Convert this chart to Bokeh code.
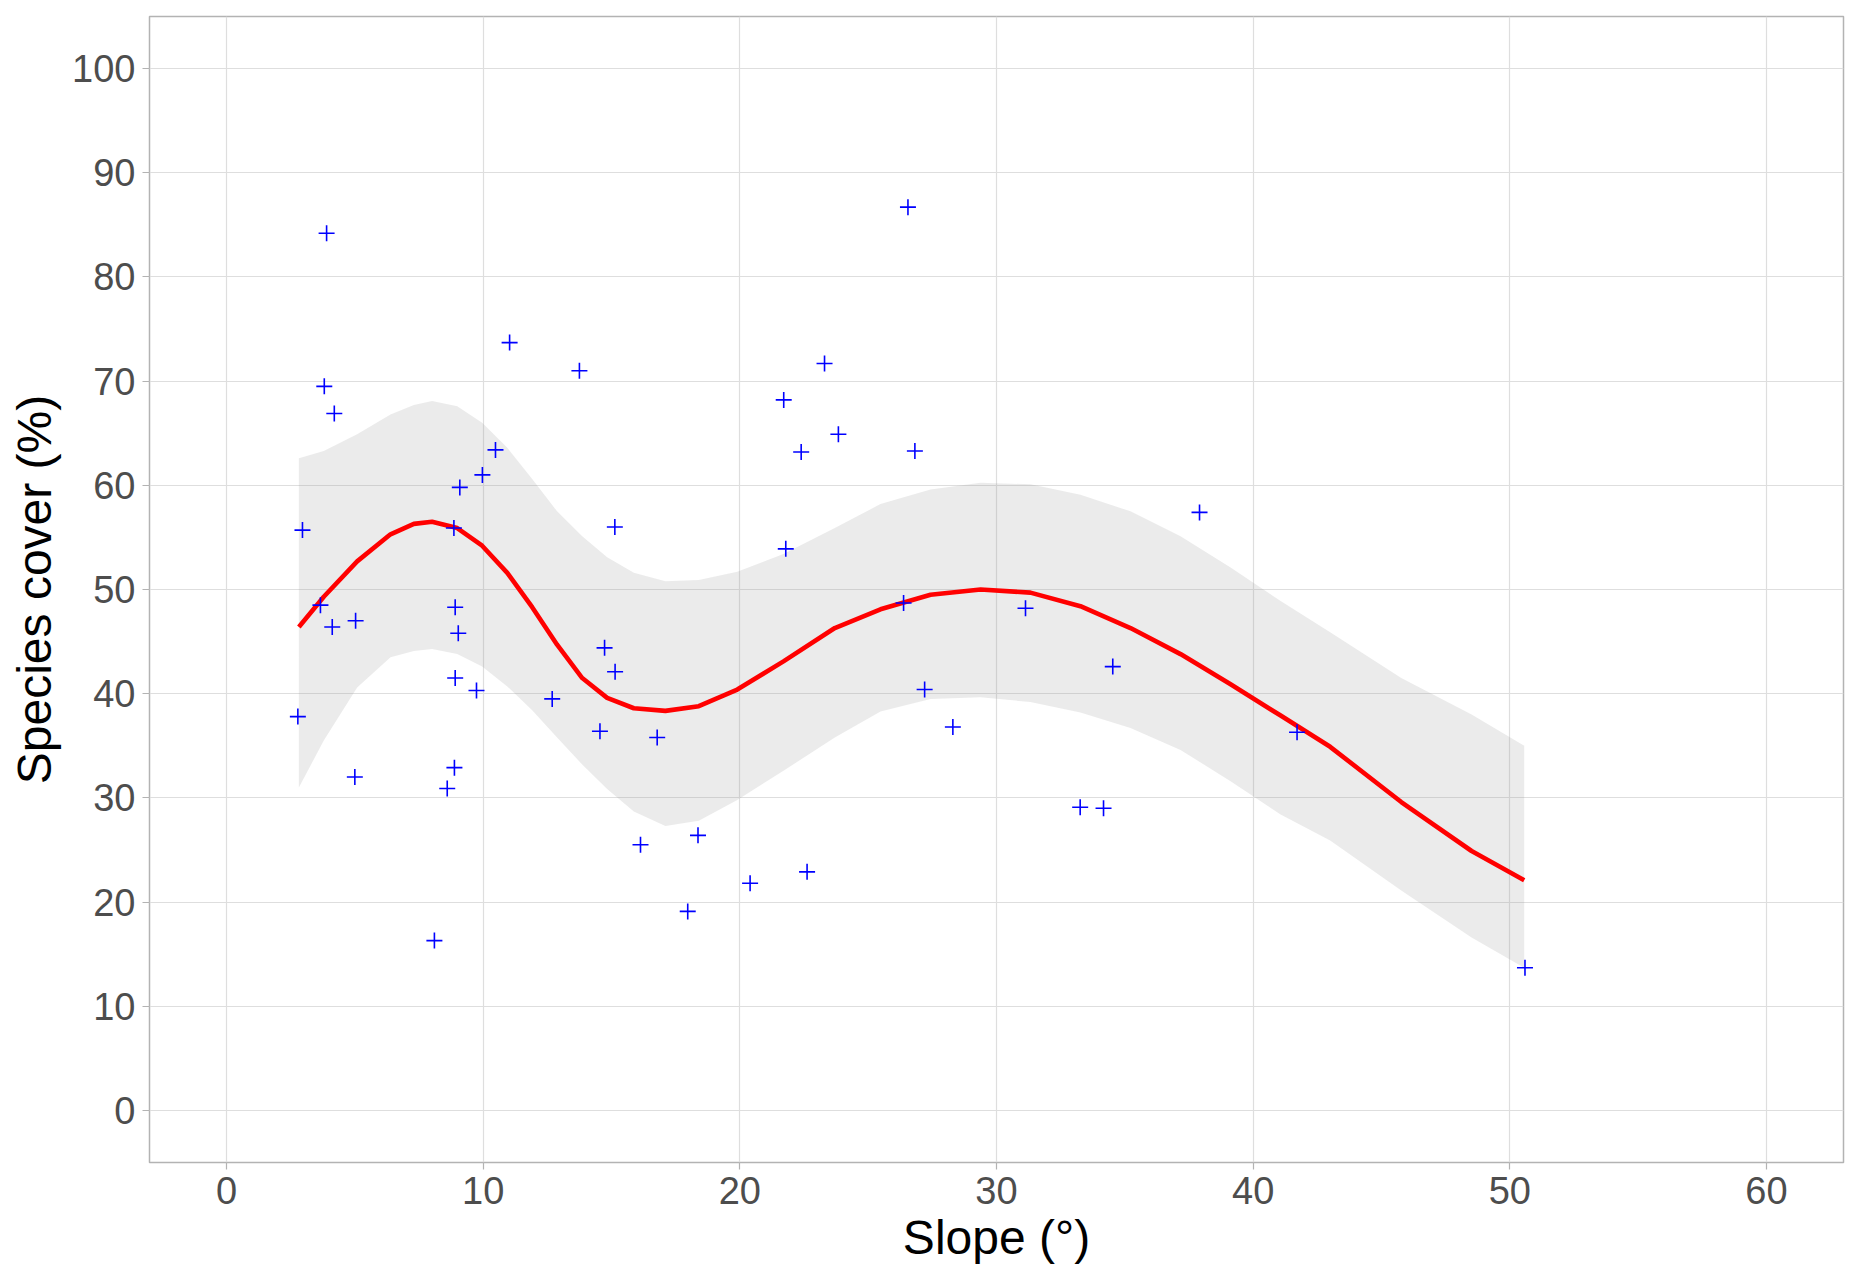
from bokeh.plotting import figure
from bokeh.models import Range1d, FixedTicker, ColumnDataSource
from bokeh.embed import file_html
from bokeh.resources import INLINE

# Observed data: slope (degrees) and species cover (%)
slope = [2.78, 2.96, 3.90, 3.81, 4.20, 3.66, 4.12, 5.03, 5.00, 8.10,
         8.60, 8.88, 8.91, 8.91, 9.03, 8.86, 9.09, 9.74, 9.97, 10.48,
         11.03, 12.69, 13.75, 14.73, 14.55, 15.14, 15.13, 16.13, 16.78, 17.97,
         18.37, 20.40, 21.71, 21.79, 22.39, 22.62, 23.30, 23.84, 26.38, 26.55,
         26.82, 27.20, 28.30, 31.13, 33.26, 34.17, 34.53, 37.91, 41.71, 50.59]
cover = [37.8, 55.7, 84.2, 69.5, 66.9, 48.5, 46.4, 47.0, 32.0, 16.3,
         30.9, 32.9, 41.5, 48.3, 45.8, 55.9, 59.8, 40.3, 61.0, 63.4,
         73.7, 39.5, 71.0, 44.4, 36.4, 42.1, 56.0, 25.5, 35.8, 19.1,
         26.4, 21.8, 68.2, 53.9, 63.2, 22.9, 71.7, 64.9, 48.7, 86.7,
         63.3, 40.4, 36.8, 48.2, 29.1, 29.0, 42.6, 57.4, 36.3, 13.7]

# Smooth fit and its confidence band
fit_x = [2.82, 3.79, 5.09, 6.39, 7.30, 8.01, 8.99, 9.96, 10.94, 11.91, 12.88, 13.86,
         14.83, 15.87, 17.10, 18.40, 19.90, 21.70, 23.70, 25.48, 27.43, 29.38, 31.32,
         33.27, 35.22, 37.17, 39.12, 41.07, 43.00, 45.77, 48.51, 50.56]
fit_y = [46.4, 49.3, 52.7, 55.3, 56.3, 56.5, 55.9, 54.2, 51.6, 48.3, 44.7, 41.5,
         39.6, 38.6, 38.35, 38.8, 40.4, 43.1, 46.3, 48.1, 49.5, 50.0, 49.7,
         48.4, 46.3, 43.8, 40.9, 37.9, 34.9, 29.6, 24.9, 22.1]
fit_upper = [62.6, 63.3, 64.9, 66.8, 67.7, 68.1, 67.6, 66.0, 63.6, 60.6, 57.5, 55.1,
             53.1, 51.6, 50.8, 50.9, 51.7, 53.4, 55.9, 58.2, 59.6, 60.25, 60.1,
             59.1, 57.5, 55.1, 52.1, 48.9, 45.9, 41.5, 38.0, 35.0]
fit_lower = [31.0, 35.5, 40.6, 43.5, 44.1, 44.3, 43.8, 42.6, 40.7, 38.4, 35.8, 33.2,
             30.85, 28.7, 27.3, 27.8, 29.8, 32.6, 35.8, 38.3, 39.5, 39.65, 39.2,
             38.2, 36.7, 34.6, 31.6, 28.4, 25.9, 21.1, 16.6, 13.7]

x_ticks = [0, 10, 20, 30, 40, 50, 60]
y_ticks = [0, 10, 20, 30, 40, 50, 60, 70, 80, 90, 100]

FONT = "Liberation Sans"

p = figure(width=1847, height=1266, output_backend="svg", toolbar_location=None,
           x_range=Range1d(-3, 63), y_range=Range1d(-5, 105),
           min_border_left=149, min_border_right=4, min_border_top=16, min_border_bottom=104)

p.background_fill_color = "white"
p.border_fill_color = "white"
p.outline_line_color = "#b3b3b3"
p.outline_line_width = 1.5

for ax in (p.xaxis[0], p.yaxis[0]):
    ax.axis_line_color = None
    ax.major_tick_line_color = "#b3b3b3"
    ax.major_tick_line_width = 1.2
    ax.major_tick_out = 7
    ax.major_tick_in = 0
    ax.minor_tick_line_color = None
    ax.major_label_text_font = FONT
    ax.major_label_text_font_size = "38px"
    ax.major_label_text_color = "#4d4d4d"
    ax.axis_label_text_font = FONT
    ax.axis_label_text_font_size = "48px"
    ax.axis_label_text_font_style = "normal"
    ax.axis_label_text_color = "black"

p.xaxis.ticker = FixedTicker(ticks=x_ticks)
p.yaxis.ticker = FixedTicker(ticks=y_ticks)
p.xaxis.axis_label = "Slope (°)"
p.yaxis.axis_label = "Species cover (%)"
p.xaxis.major_label_standoff = 7
p.yaxis.major_label_standoff = 7
p.xaxis.axis_label_standoff = 4
p.yaxis.axis_label_standoff = 8

p.xgrid.grid_line_color = "#dedede"
p.ygrid.grid_line_color = "#dedede"
p.xgrid.grid_line_width = 1.2
p.ygrid.grid_line_width = 1.2
p.xgrid.ticker = FixedTicker(ticks=x_ticks)
p.ygrid.ticker = FixedTicker(ticks=y_ticks)

band = ColumnDataSource(dict(x=fit_x, lo=fit_lower, hi=fit_upper, y=fit_y))
p.varea(x="x", y1="lo", y2="hi", source=band, fill_color="#999999", fill_alpha=0.2)
p.line(x="x", y="y", source=band, line_color="#ff0000", line_width=4.6, line_join="round")

pts = ColumnDataSource(dict(x=slope, y=cover))
p.scatter(x="x", y="y", source=pts, marker="cross", size=16, line_color="#0000ff", line_width=1.6)

open("out.html", "w").write(file_html(p, INLINE))
